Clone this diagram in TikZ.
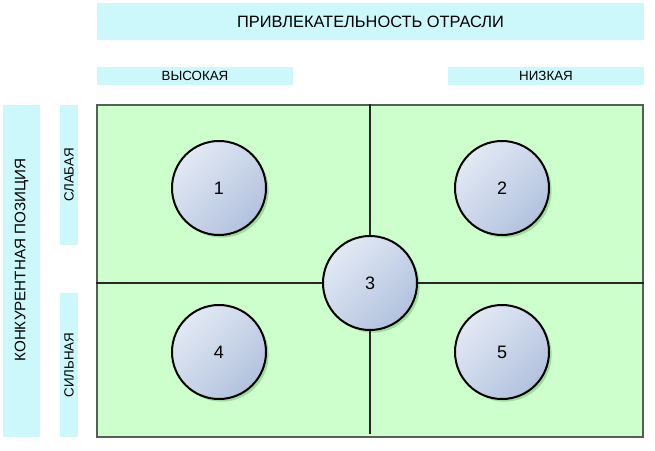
\documentclass[tikz,border=0pt]{standalone}
\usepackage{fontspec}
\setmainfont{Liberation Sans}
\usetikzlibrary{positioning}
\usetikzlibrary{shadows}
\definecolor{barcyan}{RGB}{204,248,252}
\definecolor{fieldgreen}{RGB}{204,255,204}
\definecolor{fieldline}{RGB}{85,95,85}
\definecolor{ballhi}{RGB}{226,233,244}
\definecolor{balllo}{RGB}{178,194,222}
\tikzset{
  bar/.style={fill=barcyan, inner sep=0, font=\fontsize{10}{12}\selectfont},
  bigbar/.style={bar, font=\fontsize{12.3}{14}\selectfont},
  ball/.style={circle, draw=black, line width=1.5pt, minimum size=70.5pt, inner sep=0,
    top color=ballhi, bottom color=balllo, shading angle=45,
    drop shadow={opacity=0.3, fill=black!40!green!60!gray, shadow xshift=2pt, shadow yshift=-2pt},
    font=\fontsize{13.5}{15}\selectfont},
  divider/.style={line width=1.1pt, black!85}
}
\begin{document}
\begin{tikzpicture}[x=0.75pt, y=-0.75pt]
  \useasboundingbox (0,0) rectangle (655,450);

  \node [bigbar, minimum width=410.25pt, minimum height=27.75pt] (attract) at (370.5,21.5) {ПРИВЛЕКАТЕЛЬНОСТЬ ОТРАСЛИ};
  \node [bar, minimum width=147pt, minimum height=13.5pt] (high) at (195,76) {ВЫСОКАЯ};
  \node [bar, minimum width=147pt, minimum height=13.5pt] (low) at (546,76) {НИЗКАЯ};

  \node [bar, minimum width=27.75pt, minimum height=249pt] (compet) at (21.5,271) {};
  \node [rotate=90, inner sep=0, font=\fontsize{11.4}{13}\selectfont] (comptext) at (21.5,260) {КОНКУРЕНТНАЯ ПОЗИЦИЯ};
  \node [bar, minimum width=105pt, minimum height=13.5pt, rotate=90] (weak) at (69,175) {СЛАБАЯ};
  \node [bar, minimum width=108pt, minimum height=13.5pt, rotate=90] (strong) at (69,365) {СИЛЬНАЯ};

  \node [fill=fieldgreen, draw=fieldline, line width=0.8pt, minimum width=409.5pt, minimum height=249pt] (field) at (370,271) {};

  \node [ball] (b3) at (370,283) {3};
  \draw [divider] (b3 |- field.north) -- (b3);
  \draw [divider] (b3) -- ([yshift=3pt]b3 |- field.south);
  \draw [divider] (b3 -| field.west) -- (b3);
  \draw [divider] (b3) -- (b3 -| field.east);

  \node [ball] (b1) at (219,188) {1};
  \node [ball] (b2) at (502,188) {2};
  \node [ball] (b4) at (219,352) {4};
  \node [ball] (b5) at (502,352) {5};
\end{tikzpicture}
\end{document}
